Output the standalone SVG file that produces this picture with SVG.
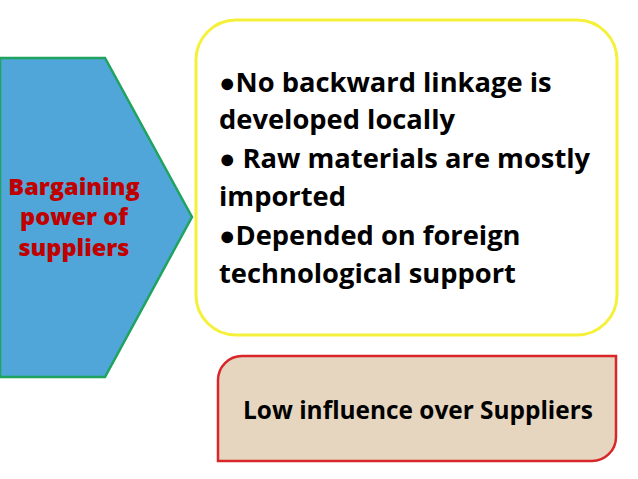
<svg xmlns="http://www.w3.org/2000/svg" width="638" height="479" viewBox="0 0 638 479">
<style>
.lbl{font-family:"Open Sans","Liberation Sans",sans-serif;font-weight:800;fill:#c00000;font-size:23.5px;text-anchor:middle}
.body{font-family:"Open Sans","Liberation Sans",sans-serif;font-weight:700;fill:#000;font-size:27.3px}
.res{font-family:"Open Sans","Liberation Sans",sans-serif;font-weight:700;fill:#000;font-size:24.4px;text-anchor:middle}
</style>
<rect width="638" height="479" fill="#fff"/>
<g id="bargaining">
<polygon points="0,58 105,58 192,217 105,377 0,377" fill="#50a6d9" stroke="#1fa35f" stroke-width="2.5"/>
<text class="lbl" x="74" y="195">Bargaining</text>
<text class="lbl" x="74" y="225">power of</text>
<text class="lbl" x="74" y="256">suppliers</text>
</g>
<g id="details">
<rect x="196" y="20" width="421" height="315" rx="40" ry="40" fill="#fff" stroke="#f5f03a" stroke-width="3"/>
<text class="body" x="219" y="92">●No backward linkage is</text>
<text class="body" x="219" y="129">developed locally</text>
<text class="body" x="219" y="168">● Raw materials are mostly</text>
<text class="body" x="219" y="206">imported</text>
<text class="body" x="219" y="245">●Depended on foreign</text>
<text class="body" x="219" y="283">technological support</text>
</g>
<g id="influence">
<path d="M242,356 H616 V437 A24,24 0 0 1 592,461 H218 V380 A24,24 0 0 1 242,356 Z" fill="#e6d6bf" stroke="#d8262b" stroke-width="2.5"/>
<text class="res" x="418" y="419">Low influence over Suppliers</text>
</g>
<g id="connectors"></g>
</svg>
